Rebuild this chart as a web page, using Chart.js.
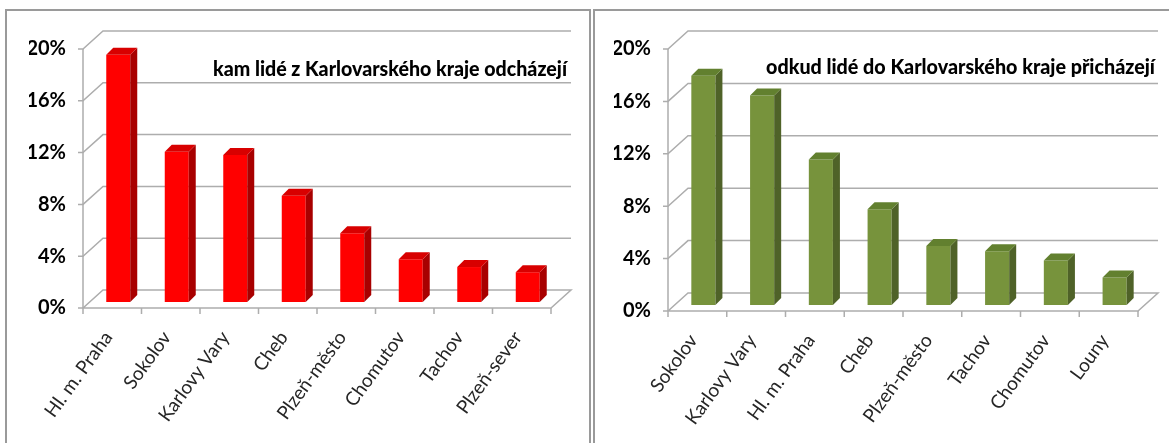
<!DOCTYPE html>
<html>
<head>
<meta charset="utf-8">
<script src="https://cdn.jsdelivr.net/npm/chart.js@4"></script>
<style>
  html, body { margin: 0; padding: 0; background: #fff; }
  body { width: 1169px; height: 443px; position: relative; overflow: hidden; }
  .panel { position: absolute; border: 2px solid #9a9a9a; box-sizing: border-box; }
  canvas { position: absolute; top: 0; }
</style>
</head>
<body>
<div class="panel" style="left:5px; top:9px; width:586px; height:450px;"></div>
<div class="panel" style="left:593px; top:9px; width:590px; height:450px;"></div>
<canvas id="cOut" width="592" height="443" style="left:0"></canvas>
<canvas id="cIn" width="577" height="443" style="left:592px"></canvas>
<script>
// where people from the region go
const outCategories = ['Hl. m. Praha', 'Sokolov', 'Karlovy Vary', 'Cheb', 'Plzeň-město', 'Chomutov', 'Tachov', 'Plzeň-sever']
const outValues = [19.1, 11.6, 11.35, 8.2, 5.3, 3.3, 2.7, 2.3]
const outTitle = 'kam lidé z Karlovarského kraje odcházejí'

// where people coming to the region come from
const inCategories = ['Sokolov', 'Karlovy Vary', 'Hl. m. Praha', 'Cheb', 'Plzeň-město', 'Tachov', 'Chomutov', 'Louny']
const inValues = [17.5, 16.0, 11.1, 7.3, 4.5, 4.1, 3.4, 2.1]
const inTitle = 'odkud lidé do Karlovarského kraje přicházejí'

const yTicks = [0, 4, 8, 12, 16, 20]

// fake 3D: front edge / back wall offsets relative to bar plane
const FRONT = { dx: -6, dy: 6 }
const BACK = { dx: 14, dy: -12 }
const BAR_DEPTH = { dx: 7, dy: -7 }
const GRID = '#adadad'

const box3d = {
  id: 'box3d',
  beforeDatasetsDraw(chart) {
    const { ctx, chartArea: a, scales: { x, y } } = chart
    ctx.save()
    ctx.strokeStyle = GRID
    ctx.lineWidth = 1.5
    const right = a.right
    yTicks.forEach(v => {
      const py = y.getPixelForValue(v)
      const fx = a.left + FRONT.dx, fy = py + FRONT.dy
      const bx = a.left + BACK.dx, by = py + BACK.dy
      ctx.beginPath()
      ctx.moveTo(fx - 5, fy); ctx.lineTo(fx, fy)
      ctx.lineTo(bx, by); ctx.lineTo(right + BACK.dx, by)
      if (v === 0) {
        ctx.lineTo(right + FRONT.dx, fy)
        ctx.lineTo(fx, fy)
      }
      ctx.stroke()
    })
    // front left axis
    const top = y.getPixelForValue(20), bot = y.getPixelForValue(0)
    ctx.beginPath()
    ctx.moveTo(a.left + FRONT.dx, top + FRONT.dy)
    ctx.lineTo(a.left + FRONT.dx, bot + FRONT.dy)
    ctx.stroke()
    // category ticks on the front floor edge
    const n = chart.data.labels.length
    const w = (a.right - a.left) / n
    ctx.beginPath()
    for (let i = 0; i <= n; i++) {
      const px = a.left + i * w + FRONT.dx
      ctx.moveTo(px, bot + FRONT.dy)
      ctx.lineTo(px, bot + FRONT.dy + 6)
    }
    ctx.stroke()
    ctx.restore()
  },
  afterDatasetsDraw(chart, args, opts) {
    const { ctx } = chart
    const meta = chart.getDatasetMeta(0)
    ctx.save()
    meta.data.forEach(bar => {
      const { x, y, base, width } = bar.getProps(['x', 'y', 'base', 'width'], true)
      const l = x - width / 2, r = x + width / 2
      const d = BAR_DEPTH
      ctx.fillStyle = opts.side
      ctx.beginPath()
      ctx.moveTo(r, y); ctx.lineTo(r + d.dx, y + d.dy)
      ctx.lineTo(r + d.dx, base + d.dy); ctx.lineTo(r, base)
      ctx.closePath(); ctx.fill()
      ctx.fillStyle = opts.top
      ctx.beginPath()
      ctx.moveTo(l, y); ctx.lineTo(l + d.dx, y + d.dy)
      ctx.lineTo(r + d.dx, y + d.dy); ctx.lineTo(r, y)
      ctx.closePath(); ctx.fill()
    })
    ctx.restore()
  },
  afterDraw(chart, args, opts) {
    const { ctx } = chart
    ctx.save()
    ctx.font = '900 20px Lato'
    ctx.fillStyle = '#000'
    ctx.textBaseline = 'middle'
    ctx.textAlign = 'left'
    ctx.fillText(opts.title, opts.tx, opts.ty, opts.tw)
    ctx.restore()
  }
}

function makeChart(id, labels, values, o) {
  return new Chart(document.getElementById(id), {
    type: 'bar',
    data: {
      labels,
      datasets: [{ data: values, backgroundColor: o.front, borderWidth: 0, categoryPercentage: 1, barPercentage: 0.41 }]
    },
    options: {
      responsive: false,
      animation: false,
      layout: { padding: o.pad },
      plugins: {
        legend: { display: false },
        tooltip: { enabled: false },
        box3d: { side: o.side, top: o.top, title: o.title, tx: o.tx, ty: o.ty, tw: o.tw }
      },
      scales: {
        x: {
          grid: { display: false, drawTicks: false },
          border: { display: false },
          afterFit: s => { s.height = 120 },
          ticks: {
            minRotation: 54, maxRotation: 54, autoSkip: false,
            labelOffset: -10, padding: 25,
            color: '#262626', font: { family: 'Lato', size: 19 }
          }
        },
        y: {
          min: 0, max: 20,
          grid: { display: false, drawTicks: false },
          border: { display: false },
          afterFit: s => { s.width = 60 },
          afterBuildTicks: s => { s.ticks = yTicks.map(v => ({ value: v })) },
          ticks: {
            labelOffset: 6, padding: 23,
            color: '#000', font: { family: 'Lato', size: 20, weight: 'bold' },
            callback: v => v + '%'
          }
        }
      }
    },
    plugins: [box3d]
  })
}

makeChart('cOut', outCategories, outValues, {
  front: '#ff0000', side: '#a80000', top: '#d80000',
  pad: { left: 29, right: 35, top: 43, bottom: 21 },
  title: outTitle, tx: 213, ty: 70, tw: 354
})
makeChart('cIn', inCategories, inValues, {
  front: '#77933c', side: '#4f6228', top: '#62802f',
  pad: { left: 22, right: 25, top: 43, bottom: 18 },
  title: inTitle, tx: 174, ty: 68, tw: 389
})
</script>
</body>
</html>
